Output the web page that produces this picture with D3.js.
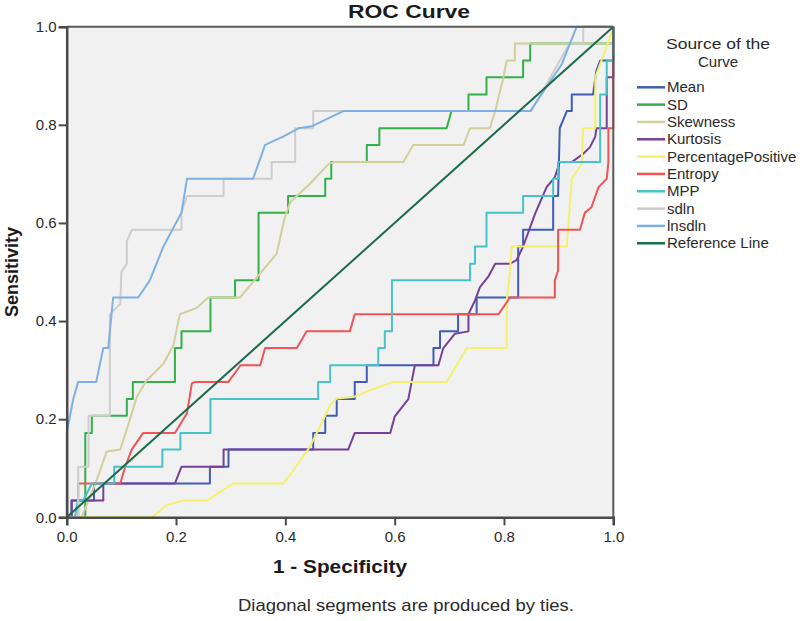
<!DOCTYPE html>
<html><head><meta charset="utf-8">
<script src="https://cdn.jsdelivr.net/npm/d3@7"></script>
<style>body{margin:0;background:#fff}svg{display:block;font-family:"Liberation Sans",Arial,sans-serif}</style>
</head><body><svg id="c" width="800" height="621"></svg>
<script>
// ---- data: [1 - specificity, sensitivity] points per curve ----
const seriesNames = ["Mean","SD","Skewness","Kurtosis","PercentagePositive","Entropy","MPP","sdln","lnsdln","Reference Line"];
const seriesColors = ["#3f5db5","#33b04a","#d2cf9a","#76409a","#f4f06e","#ef5456","#46c2c8","#cdcdcd","#7fb0e2","#1b6b4a"];
const xTicks = [0,0.2,0.4,0.6,0.8,1.0];
const yTicks = [0,0.2,0.4,0.6,0.8,1.0];

const meanPts = [[0,0],[0.009,0],[0.009,0.034],[0.05,0.034],[0.05,0.069],[0.262,0.069],[0.262,0.103],[0.296,0.103],[0.296,0.138],[0.451,0.138],[0.451,0.172],[0.473,0.172],[0.473,0.207],[0.494,0.207],[0.494,0.241],[0.527,0.241],[0.527,0.276],[0.549,0.276],[0.549,0.31],[0.671,0.31],[0.671,0.345],[0.683,0.345],[0.683,0.379],[0.716,0.379],[0.716,0.414],[0.75,0.414],[0.75,0.448],[0.826,0.448],[0.826,0.552],[0.835,0.552],[0.835,0.586],[0.89,0.586],[0.89,0.655],[0.899,0.655],[0.902,0.793],[0.915,0.828],[0.924,0.828],[0.924,0.862],[0.963,0.862],[0.969,0.91],[0.976,0.931],[1,0.931],[1,1]];
const sdPts = [[0,0],[0.034,0],[0.034,0.172],[0.046,0.172],[0.046,0.207],[0.11,0.207],[0.11,0.241],[0.121,0.241],[0.121,0.276],[0.198,0.276],[0.198,0.345],[0.21,0.345],[0.21,0.379],[0.263,0.379],[0.263,0.448],[0.308,0.448],[0.308,0.483],[0.351,0.483],[0.351,0.621],[0.405,0.621],[0.405,0.655],[0.473,0.655],[0.473,0.69],[0.484,0.69],[0.484,0.724],[0.549,0.724],[0.549,0.759],[0.572,0.759],[0.572,0.793],[0.695,0.793],[0.704,0.828],[0.735,0.828],[0.735,0.862],[0.768,0.862],[0.768,0.897],[0.835,0.897],[0.835,0.931],[0.848,0.931],[0.848,0.966],[1,0.966],[1,1]];
const skewPts = [[0,0],[0.027,0],[0.04,0.034],[0.055,0.076],[0.073,0.134],[0.098,0.138],[0.113,0.19],[0.128,0.245],[0.146,0.279],[0.177,0.313],[0.195,0.35],[0.207,0.414],[0.238,0.427],[0.259,0.448],[0.317,0.448],[0.354,0.497],[0.384,0.537],[0.399,0.612],[0.409,0.642],[0.445,0.68],[0.479,0.72],[0.488,0.724],[0.616,0.724],[0.634,0.759],[0.726,0.759],[0.738,0.793],[0.774,0.793],[0.784,0.828],[0.799,0.897],[0.805,0.931],[0.82,0.931],[0.82,0.966],[1,0.966],[1,1]];
const kurtPts = [[0,0],[0.009,0],[0.009,0.034],[0.067,0.034],[0.067,0.069],[0.198,0.069],[0.21,0.103],[0.287,0.103],[0.287,0.138],[0.515,0.138],[0.527,0.172],[0.592,0.172],[0.6,0.205],[0.625,0.241],[0.631,0.276],[0.637,0.31],[0.68,0.31],[0.689,0.345],[0.71,0.374],[0.735,0.379],[0.735,0.414],[0.747,0.442],[0.756,0.469],[0.771,0.49],[0.784,0.517],[0.811,0.517],[0.823,0.524],[0.835,0.552],[0.857,0.619],[0.878,0.673],[0.893,0.693],[0.902,0.724],[0.924,0.724],[0.945,0.741],[0.957,0.754],[0.967,0.776],[0.969,0.793],[0.988,0.793],[0.988,0.897],[1,0.897],[1,1]];
const pctPosPts = [[0,0],[0.156,0],[0.183,0.025],[0.213,0.034],[0.256,0.034],[0.305,0.069],[0.396,0.069],[0.415,0.096],[0.445,0.144],[0.463,0.184],[0.482,0.229],[0.494,0.242],[0.524,0.245],[0.555,0.259],[0.598,0.276],[0.695,0.276],[0.732,0.345],[0.805,0.345],[0.805,0.44],[0.811,0.5],[0.814,0.552],[0.915,0.552],[0.924,0.69],[0.942,0.72],[0.945,0.793],[0.967,0.793],[0.967,0.897],[0.99,0.966],[1,1]];
const entropyPts = [[0,0],[0.021,0],[0.021,0.069],[0.098,0.069],[0.107,0.103],[0.119,0.138],[0.14,0.172],[0.198,0.172],[0.22,0.212],[0.229,0.273],[0.235,0.276],[0.296,0.276],[0.318,0.31],[0.354,0.31],[0.363,0.345],[0.421,0.345],[0.439,0.379],[0.518,0.379],[0.527,0.414],[0.79,0.414],[0.811,0.448],[0.893,0.448],[0.893,0.483],[0.899,0.503],[0.899,0.586],[0.939,0.586],[0.948,0.621],[0.96,0.632],[0.973,0.673],[0.988,0.69],[0.991,0.724],[0.991,0.793],[1,0.793],[1,1]];
const mppPts = [[0,0],[0.015,0],[0.02,0.034],[0.03,0.034],[0.046,0.069],[0.087,0.069],[0.087,0.103],[0.175,0.103],[0.175,0.138],[0.208,0.138],[0.208,0.172],[0.263,0.172],[0.263,0.241],[0.46,0.241],[0.46,0.276],[0.482,0.276],[0.482,0.31],[0.57,0.31],[0.57,0.345],[0.582,0.345],[0.582,0.379],[0.595,0.379],[0.595,0.483],[0.738,0.483],[0.738,0.517],[0.747,0.517],[0.747,0.552],[0.768,0.552],[0.768,0.621],[0.835,0.621],[0.835,0.655],[0.89,0.655],[0.89,0.69],[0.899,0.69],[0.899,0.724],[0.976,0.724],[0.976,0.862],[0.988,0.862],[0.988,0.931],[1,0.931],[1,1]];
const sdlnPts = [[0,0],[0.021,0],[0.021,0.103],[0.04,0.103],[0.04,0.207],[0.079,0.207],[0.079,0.414],[0.098,0.435],[0.1,0.5],[0.11,0.517],[0.11,0.562],[0.119,0.586],[0.21,0.586],[0.21,0.621],[0.22,0.655],[0.287,0.655],[0.287,0.69],[0.375,0.69],[0.375,0.724],[0.418,0.724],[0.418,0.793],[0.451,0.793],[0.451,0.828],[0.85,0.828],[0.92,0.966],[0.945,0.966],[0.945,1],[1,1]];
const lnsdlnPts = [[0,0],[0,0.172],[0.012,0.241],[0.021,0.276],[0.054,0.276],[0.067,0.345],[0.076,0.345],[0.085,0.448],[0.131,0.448],[0.152,0.483],[0.177,0.552],[0.21,0.621],[0.22,0.69],[0.341,0.69],[0.363,0.759],[0.396,0.776],[0.424,0.793],[0.448,0.797],[0.506,0.828],[0.848,0.828],[0.906,0.924],[0.933,1],[1,1]];
const refPts = [[0,0],[1,1]];
const seriesData = [meanPts,sdPts,skewPts,kurtPts,pctPosPts,entropyPts,mppPts,sdlnPts,lnsdlnPts,refPts];

// ---- layout ----
const svg = d3.select("#c");
const L = 66.7, R = 613.3, T = 26.7, B = 517.3;
const x = d3.scaleLinear().domain([0,1]).range([L,R]);
const y = d3.scaleLinear().domain([0,1]).range([B,T]);

svg.append("rect").attr("x",L).attr("y",T).attr("width",R-L).attr("height",B-T).attr("fill","#f1f1f1");

const line = d3.line().x(d=>x(d[0])).y(d=>y(d[1]));
const g = svg.append("g");
seriesData.forEach((pts,i)=>{
  g.append("path").datum(pts).attr("d",line).attr("fill","none")
   .attr("stroke",seriesColors[i]).attr("stroke-width",2).attr("stroke-linejoin","round");
});

// frame
svg.append("line").attr("x1",L).attr("x2",R).attr("y1",T).attr("y2",T).attr("stroke","#5a5a5a").attr("stroke-width",2);
svg.append("line").attr("x1",R).attr("x2",R).attr("y1",T).attr("y2",B).attr("stroke","#5a5a5a").attr("stroke-width",2);

const xAxis = svg.append("g").attr("transform",`translate(0,${B})`)
  .call(d3.axisBottom(x).tickValues(xTicks).tickFormat(d3.format(".1f")).tickSizeOuter(0).tickSize(8));
const yAxis = svg.append("g").attr("transform",`translate(${L},0)`)
  .call(d3.axisLeft(y).tickValues(yTicks).tickFormat(d3.format(".1f")).tickSizeOuter(0).tickSize(8));
[xAxis,yAxis].forEach(a=>{
  a.select(".domain").attr("stroke","#4a4a4a").attr("stroke-width",2.5);
  a.selectAll(".tick line").attr("stroke","#4a4a4a").attr("stroke-width",2);
  a.selectAll(".tick text").attr("fill","#2a2a2a").style("font-size","15px").style("font-family","'Liberation Sans',Arial,sans-serif");
});
xAxis.selectAll(".tick text").attr("dy","0.9em");
yAxis.selectAll(".tick text").attr("x",-10);

// titles (reference text is slightly stretched horizontally)
svg.append("text").attr("x",409).attr("y",18).attr("text-anchor","middle")
  .attr("textLength",122).attr("lengthAdjust","spacingAndGlyphs")
  .style("font-size","19px").style("font-weight","bold").attr("fill","#1a1a1a").text("ROC Curve");
svg.append("text").attr("x",340).attr("y",573).attr("text-anchor","middle")
  .attr("textLength",134).attr("lengthAdjust","spacingAndGlyphs")
  .style("font-size","18px").style("font-weight","bold").attr("fill","#1a1a1a").text("1 - Specificity");
svg.append("text").attr("transform","translate(18,272) rotate(-90)").attr("text-anchor","middle")
  .style("font-size","18px").style("font-weight","bold").attr("fill","#1a1a1a").text("Sensitivity");
svg.append("text").attr("x",406).attr("y",611).attr("text-anchor","middle")
  .attr("textLength",336).attr("lengthAdjust","spacingAndGlyphs")
  .style("font-size","17px").attr("fill","#2a2a2a").text("Diagonal segments are produced by ties.");

// legend
const lg = svg.append("g");
lg.append("text").attr("x",718).attr("y",49).attr("text-anchor","middle")
  .attr("textLength",104).attr("lengthAdjust","spacingAndGlyphs")
  .style("font-size","15px").attr("fill","#2a2a2a").text("Source of the");
lg.append("text").attr("x",718).attr("y",66.5).attr("text-anchor","middle")
  .style("font-size","15px").attr("fill","#2a2a2a").text("Curve");
seriesNames.forEach((n,i)=>{
  const yy = 87.3 + i*17.33;
  lg.append("line").attr("x1",637).attr("x2",665).attr("y1",yy).attr("y2",yy).attr("stroke",seriesColors[i]).attr("stroke-width",2.5);
  lg.append("text").attr("x",667).attr("y",yy+5).style("font-size","15px").attr("fill","#2a2a2a").text(n);
});
</script></body></html>
